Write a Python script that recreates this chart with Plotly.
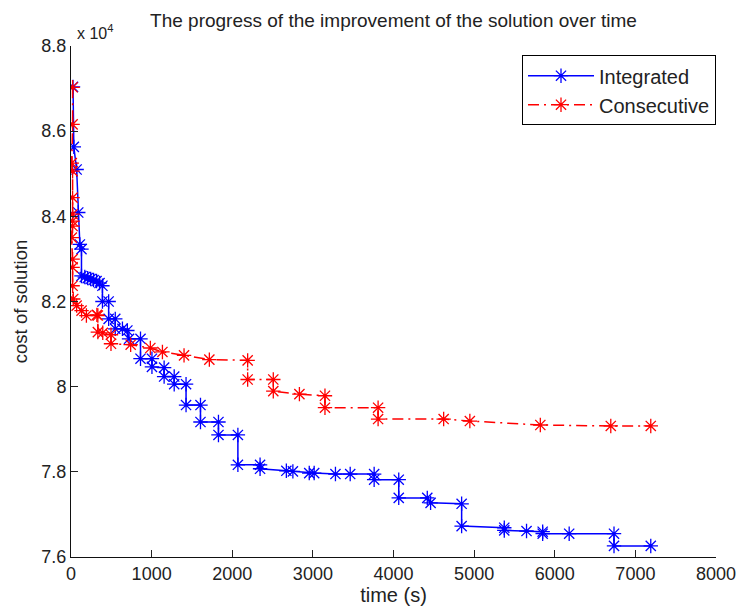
import plotly.graph_objects as go

# Integrated approach: (time in s, cost) at each recorded improvement step
integrated_t = [25, 35, 70, 90, 110, 130, 130, 171, 207, 244, 280, 317, 354, 390,
                390, 467, 467, 549, 549, 638, 699, 720, 862, 862, 1004, 1004, 1155,
                1155, 1280, 1280, 1427, 1427, 1606, 1606, 1829, 1829, 2070, 2070,
                2345, 2345, 2671, 2752, 2955, 3016, 3280, 3463, 3760, 3760, 4065,
                4065, 4419, 4460, 4845, 4845, 5374, 5374, 5650, 5850, 5850, 6179,
                6735, 6735, 7191]
integrated_cost = [87040, 85630, 85100, 84090, 83340, 83230, 82600, 82574, 82550,
                   82527, 82504, 82480, 82434, 82370, 82000, 82000, 81592, 81592,
                   81359, 81359, 81319, 81124, 81124, 80657, 80657, 80464, 80448,
                   80238, 80238, 80058, 80058, 79568, 79568, 79170, 79170, 78866,
                   78866, 78165, 78165, 78072, 78025, 78011, 77971, 77971, 77948,
                   77948, 77948, 77815, 77815, 77388, 77388, 77272, 77249, 76726,
                   76687, 76624, 76610, 76594, 76547, 76547, 76547, 76260, 76260]

# Consecutive approach
consecutive_t = [20, 20, 10, 20, 20, 20, 20, 20, 10, 20, 20, 20, 28, 70, 131, 191,
                 321, 333, 333, 394, 496, 496, 740, 984, 1134, 1402, 1716, 2191,
                 2191, 2509, 2509, 2833, 3150, 3150, 3809, 3809, 4622, 4947, 5821,
                 6695, 7191]
consecutive_cost = [87030, 86160, 85250, 85060, 84440, 84050, 83889, 83772, 83501,
                    82994, 82800, 82370, 82059, 81903, 81786, 81670, 81686, 81670,
                    81282, 81265, 81219, 81008, 80985, 80908, 80815, 80735, 80635,
                    80618, 80168, 80168, 79894, 79824, 79787, 79506, 79506, 79240,
                    79240, 79193, 79100, 79077, 79077]

x_ticks = [0, 1000, 2000, 3000, 4000, 5000, 6000, 7000, 8000]
y_ticks = [76000, 78000, 80000, 82000, 84000, 86000, 88000]
y_tick_text = ["7.6", "7.8", "8", "8.2", "8.4", "8.6", "8.8"]

FONT = "Liberation Sans, Arial, sans-serif"
TXT = "#222222"
BLUE = "rgb(0,0,255)"
RED = "rgb(255,0,0)"

fig = go.Figure()
fig.add_trace(go.Scatter(
    x=integrated_t, y=integrated_cost, name="Integrated", mode="lines+markers",
    line=dict(color=BLUE, width=1.5),
    marker=dict(symbol="asterisk-open", size=12, line=dict(color=BLUE, width=1.3)),
))
fig.add_trace(go.Scatter(
    x=consecutive_t, y=consecutive_cost, name="Consecutive", mode="lines+markers",
    line=dict(color=RED, width=1.5, dash="11px,5px,2px,5px"),
    marker=dict(symbol="asterisk-open", size=12, line=dict(color=RED, width=1.3)),
))

fig.update_layout(
    width=748, height=612,
    margin=dict(l=71, r=21, t=46, b=52),
    paper_bgcolor="white", plot_bgcolor="white",
    font=dict(family=FONT, size=18, color=TXT),
    title=dict(text="The progress of the improvement of the solution over time",
               xref="paper", x=0.5, xanchor="center", y=0.966, yanchor="middle",
               font=dict(family=FONT, size=19, color=TXT)),
    showlegend=True,
    legend=dict(x=1.0, xanchor="right", y=0.982, yanchor="top",
                bgcolor="white", bordercolor="black", borderwidth=1,
                font=dict(family=FONT, size=20, color=TXT),
                itemwidth=66, tracegroupgap=0),
    xaxis=dict(range=[0, 8000], tickvals=x_ticks, ticks="inside", ticklen=7,
               tickcolor="#222", showline=True, linecolor="#111", linewidth=1,
               showgrid=False, zeroline=False, mirror=False,
               tickfont=dict(family=FONT, size=18, color=TXT),
               title=dict(text="time (s)", standoff=2,
                          font=dict(family=FONT, size=20, color=TXT))),
    yaxis=dict(range=[76000, 88000], tickvals=y_ticks, ticktext=y_tick_text,
               ticks="inside", ticklen=7, tickcolor="#222",
               showline=True, linecolor="#111", linewidth=1,
               showgrid=False, zeroline=False, mirror=False,
               tickfont=dict(family=FONT, size=18, color=TXT),
               title=dict(text="cost of solution", standoff=8,
                          font=dict(family=FONT, size=18.5, color=TXT))),
)

fig.add_annotation(text="x 10<sup>4</sup>", xref="paper", yref="paper",
                   x=0.0, xanchor="left", xshift=4, y=1.0, yanchor="bottom",
                   yshift=2, showarrow=False,
                   font=dict(family=FONT, size=16, color=TXT))

fig.write_html("out.html")
